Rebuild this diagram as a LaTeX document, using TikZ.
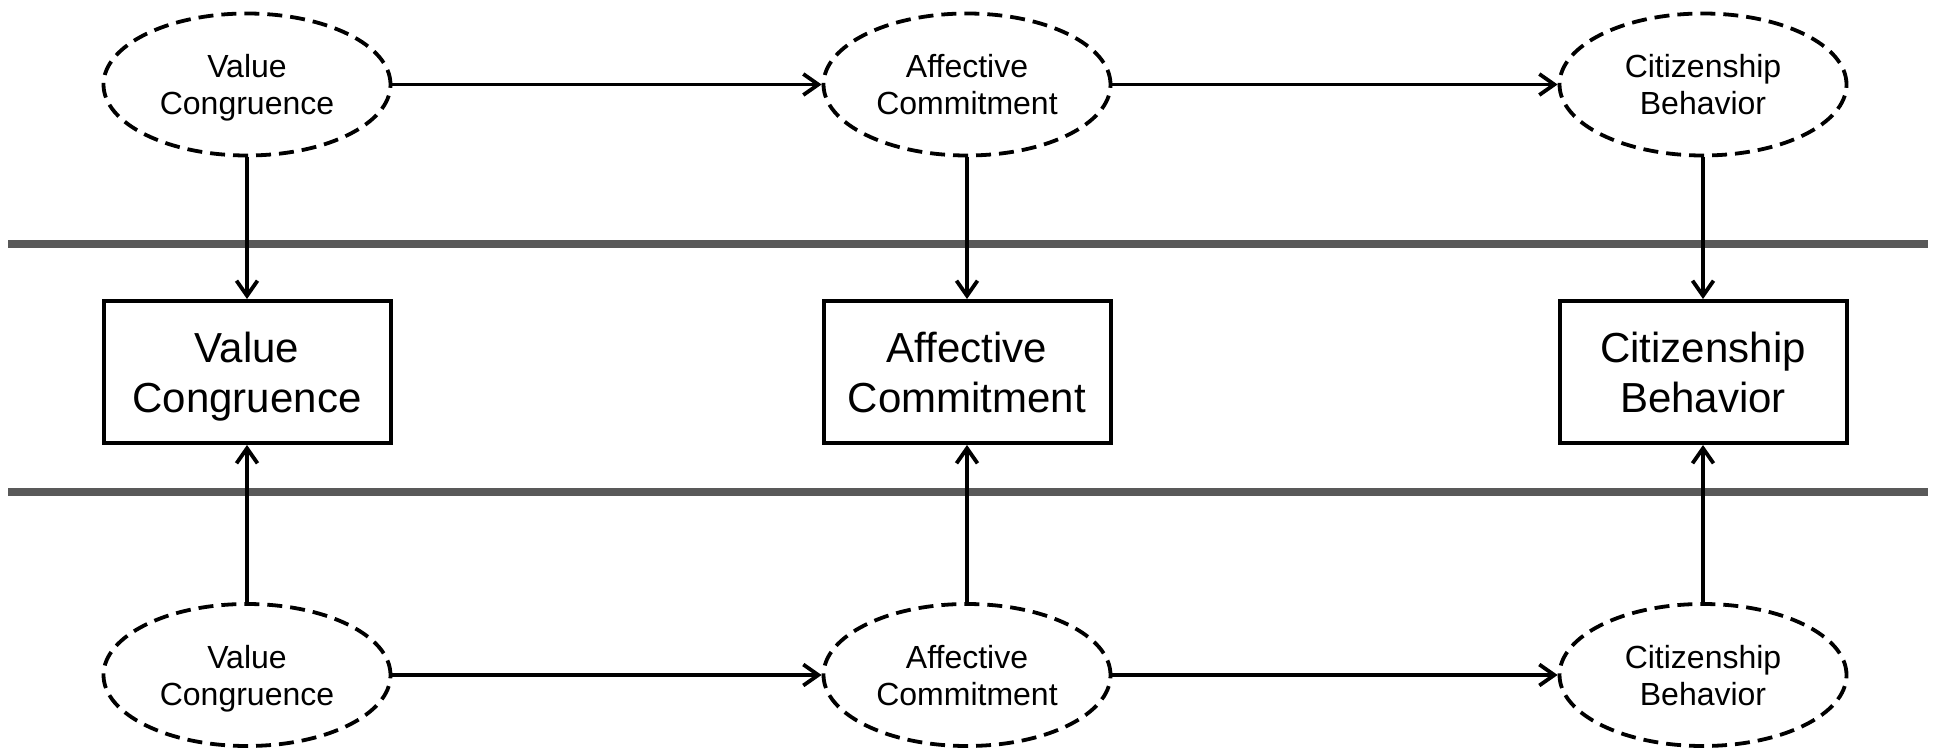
\documentclass[tikz,border=0pt]{standalone}
\usepackage{fontspec}
\setmainfont{Liberation Sans}
\usetikzlibrary{shapes.geometric,arrows.meta}

% a line whose descenders do not count towards the node's depth
\newcommand\flatline[1]{\raisebox{0pt}[\height][0pt]{#1}}

\begin{document}
\begin{tikzpicture}[x=1pt,y=-1pt,
  latent/.style={ellipse,draw=black,line width=3.8pt,
    dash pattern=on 15pt off 8pt,minimum width=287pt,minimum height=142pt,
    inner sep=0pt,align=center,font=\fontsize{32}{37}\selectfont},
  observed/.style={rectangle,draw=black,line width=4pt,
    minimum width=287pt,minimum height=142pt,inner sep=0pt,
    align=center,font=\fontsize{42}{50}\selectfont},
  path/.style={line width=3.8pt,-{Straight Barb[length=15pt,width=21pt,line width=3.8pt]}},
  divider/.style={line width=8pt,color=black!65}]
  \useasboundingbox (0,0) rectangle (1937,751);

  % level dividers
  \coordinate (d1l) at (8,244);
  \coordinate (d1r) at (1928,244);
  \coordinate (d2l) at (8,492);
  \coordinate (d2r) at (1928,492);
  \draw[divider] (d1l) -- (d1r);
  \draw[divider] (d2l) -- (d2r);

  % upper latent variables
  \node[latent] (tv) at (247,84.5) {Value\\\flatline{Congruence}};
  \node[latent] (ta) at (967,84.5) {Affective\\\flatline{Commitment}};
  \node[latent] (tc) at (1703,84.5) {Citizenship\\\flatline{Behavior}};

  % observed variables
  \node[observed] (mv) at (247,372) {Value\\\flatline{Congruence}};
  \node[observed] (ma) at (967,372) {Affective\\\flatline{Commitment}};
  \node[observed] (mc) at (1703,372) {Citizenship\\\flatline{Behavior}};

  % lower latent variables
  \node[latent] (bv) at (247,675) {Value\\\flatline{Congruence}};
  \node[latent] (ba) at (967,675) {Affective\\\flatline{Commitment}};
  \node[latent] (bc) at (1703,675) {Citizenship\\\flatline{Behavior}};

  % paths
  \draw[path] (tv.east) -- (ta.west);
  \draw[path] (ta.east) -- (tc.west);
  \draw[path] (bv.east) -- (ba.west);
  \draw[path] (ba.east) -- (bc.west);

  \draw[path] (tv.south) -- (mv.north);
  \draw[path] (ta.south) -- (ma.north);
  \draw[path] (tc.south) -- (mc.north);

  \draw[path] (bv.north) -- (mv.south);
  \draw[path] (ba.north) -- (ma.south);
  \draw[path] (bc.north) -- (mc.south);
\end{tikzpicture}
\end{document}
